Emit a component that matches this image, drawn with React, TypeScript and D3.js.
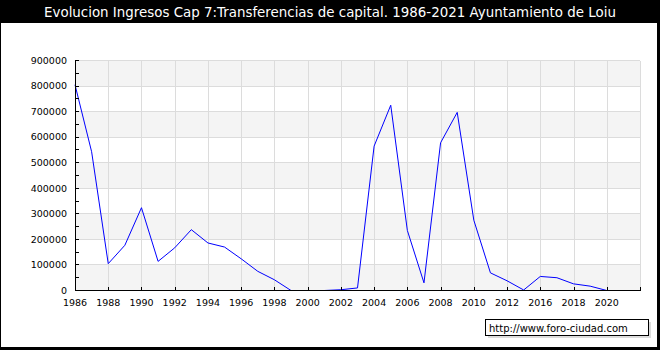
import React from "react";
import * as d3 from "d3";

const title = "Evolucion Ingresos Cap 7:Transferencias de capital. 1986-2021 Ayuntamiento de Loiu";
const watermark = "http://www.foro-ciudad.com";

const years = [
  1986, 1987, 1988, 1989, 1990, 1991, 1992, 1993, 1994, 1995,
  1996, 1997, 1998, 1999, 2000, 2001, 2002, 2003, 2004, 2005,
  2006, 2007, 2008, 2009, 2010, 2011, 2012, 2013, 2016, 2017,
  2018, 2019, 2020, 2021,
];
const values = [
  805000, 543000, 105000, 177000, 324000, 114000, 167000, 238000, 186000, 170000,
  124000, 75000, 42000, 0, 0, 0, 3000, 10000, 565000, 725000,
  235000, 30000, 578000, 697000, 275000, 69000, 38000, 2000, 55000, 50000,
  26000, 17000, 0, 0,
];
const yTicks = [0, 100000, 200000, 300000, 400000, 500000, 600000, 700000, 800000, 900000];

const W = 660;
const H = 350;
const left = 75;
const right = 640;
const top = 60.5;
const bottom = 290.5;
const font = "DejaVu Sans, Verdana, sans-serif";

export default function App() {
  const n = years.length;
  const x = d3.scaleLinear().domain([0, n]).range([left, right]);
  const y = d3.scaleLinear().domain([0, 900000]).range([bottom, top]);
  const line = d3
    .line<number>()
    .x((_, i) => x(i))
    .y((d) => y(d));

  const bands = yTicks.slice(0, -1).map((v, i) => ({ v0: v, v1: yTicks[i + 1], shade: i % 2 === 0 }));
  const xTickIdx = d3.range(0, n + 1, 2);
  const minor = d3.range(50000, 900000, 100000);
  const ry = (v: number) => Math.floor(y(v)) + 0.5;
  const rx = (i: number) => Math.round(x(i)) + 0.5;

  return (
    <div style={{ position: "absolute", left: 0, top: 0 }}>
      <svg width={W} height={H} style={{ display: "block" }}>
        <rect x={0} y={0} width={W} height={H} fill="#000" />
        <rect x={1} y={23} width={656} height={324} fill="#fff" />
        <text x={W / 2} y={17} fill="#fff" fontFamily={font} fontSize={13.4} textAnchor="middle">
          {title}
        </text>
        <g shapeRendering="crispEdges">
          {bands.map((b, i) =>
            b.shade ? (
              <rect key={i} x={left} y={ry(b.v1)} width={right - left} height={ry(b.v0) - ry(b.v1)} fill="#f4f4f4" />
            ) : null
          )}
          {yTicks.slice(1).map((v) => (
            <line key={v} x1={left} x2={right} y1={ry(v)} y2={ry(v)} stroke="#dcdcdc" />
          ))}
          {xTickIdx.slice(1).map((i) => (
            <line key={i} x1={rx(i)} x2={rx(i)} y1={top} y2={bottom} stroke="#dcdcdc" />
          ))}
        </g>
        <path d={line(values) || ""} fill="none" stroke="#0000ff" strokeWidth={1} />
        <g shapeRendering="crispEdges" stroke="#000">
          <line x1={left + 0.5} x2={left + 0.5} y1={top - 0.5} y2={bottom + 0.5} />
          <line x1={left} x2={right + 1} y1={bottom} y2={bottom} strokeWidth={1.2} />
          {yTicks.concat(minor).map((v) => (
            <line key={v} x1={left} x2={left + 4} y1={ry(v)} y2={ry(v)} />
          ))}
          {xTickIdx.map((i) => (
            <line key={i} x1={rx(i)} x2={rx(i)} y1={bottom - 4} y2={bottom} />
          ))}
        </g>
        <g fontFamily={font} fontSize={9.5} fill="#000">
          {yTicks.map((v) => (
            <text key={v} x={67} y={y(v)} dy="0.35em" textAnchor="end">
              {String(v)}
            </text>
          ))}
          {xTickIdx
            .filter((i) => i < n)
            .map((i) => (
              <text key={i} x={x(i)} y={306} textAnchor="middle">
                {String(years[i])}
              </text>
            ))}
        </g>
        <rect x={488} y={322} width={163} height={16} fill="#dcdcdc" />
        <rect x={485.5} y={319.5} width={163} height={16} fill="#fff" stroke="#000" />
        <text x={489} y={331.5} fontFamily={font} fontSize={10} fill="#000">
          {watermark}
        </text>
      </svg>
    </div>
  );
}
